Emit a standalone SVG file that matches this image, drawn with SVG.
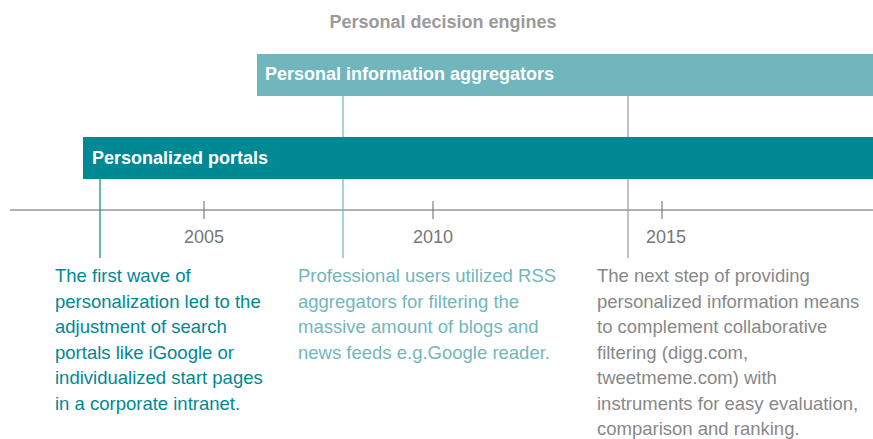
<svg xmlns="http://www.w3.org/2000/svg" width="873" height="439" viewBox="0 0 873 439">
<style>
.t{font-family:"Liberation Sans",Arial,sans-serif}
.bar{font-family:"Liberation Sans",Arial,sans-serif;font-weight:bold;font-size:18px;fill:#fff}
.yr{font-family:"Liberation Sans",Arial,sans-serif;font-size:18px;fill:#777;text-anchor:middle}
.body{font-family:"Liberation Sans",Arial,sans-serif;font-size:18.5px}
</style>
<rect width="873" height="439" fill="#fff"/>
<g id="title"><text class="t" x="443" y="28" text-anchor="middle" font-size="18" font-weight="bold" fill="#9a9a9a">Personal decision engines</text></g>
<g id="connectors">
<line x1="10" y1="210" x2="873" y2="210" stroke="#999" stroke-width="1.5"/>
<g stroke="#666" stroke-width="1"><line x1="204" y1="201" x2="204" y2="219"/><line x1="433" y1="201" x2="433" y2="219"/><line x1="662" y1="201" x2="662" y2="219"/></g>
<line x1="343" y1="96" x2="343" y2="258" stroke="#72b6bd" stroke-width="1.2"/>
<line x1="628" y1="96" x2="628" y2="258" stroke="#999" stroke-width="1.2"/>
<line x1="100" y1="179" x2="100" y2="258" stroke="#008893" stroke-width="1.2"/>
</g>
<g id="aggregators"><rect x="257" y="54" width="616" height="42" fill="#72b6bd"/><text class="bar" x="265" y="80">Personal information aggregators</text></g>
<g id="portals"><rect x="83" y="137" width="790" height="42" fill="#008893"/><text class="bar" x="92" y="164">Personalized portals</text></g>
<g id="years"><text class="yr" x="204" y="243">2005</text><text class="yr" x="433" y="243">2010</text><text class="yr" x="666" y="243">2015</text></g>
<g id="note1"><text class="body" fill="#008893" x="55" y="282"><tspan x="55">The first wave of</tspan><tspan x="55" dy="25.5">personalization led to the</tspan><tspan x="55" dy="25.5">adjustment of search</tspan><tspan x="55" dy="25.5">portals like iGoogle or</tspan><tspan x="55" dy="25.5">individualized start pages</tspan><tspan x="55" dy="25.5">in a corporate intranet.</tspan></text></g>
<g id="note2"><text class="body" fill="#72b6bd" x="298" y="282"><tspan x="298">Professional users utilized RSS</tspan><tspan x="298" dy="25.5">aggregators for filtering the</tspan><tspan x="298" dy="25.5">massive amount of blogs and</tspan><tspan x="298" dy="25.5">news feeds e.g.Google reader.</tspan></text></g>
<g id="note3"><text class="body" fill="#888" x="597" y="282"><tspan x="597">The next step of providing</tspan><tspan x="597" dy="25.5">personalized information means</tspan><tspan x="597" dy="25.5">to complement collaborative</tspan><tspan x="597" dy="25.5">filtering (digg.com,</tspan><tspan x="597" dy="25.5">tweetmeme.com) with</tspan><tspan x="597" dy="25.5">instruments for easy evaluation,</tspan><tspan x="597" dy="25.5">comparison and ranking.</tspan></text></g>
</svg>
